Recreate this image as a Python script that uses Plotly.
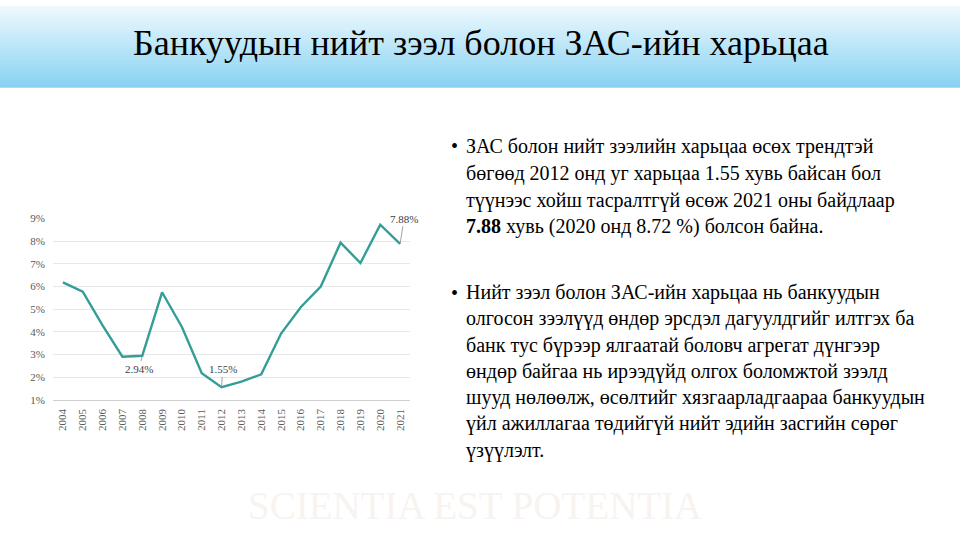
import plotly.graph_objects as go

years = list(range(2004, 2022))
ratio = [6.18, 5.77, 4.28, 2.90, 2.94, 5.74, 4.21, 2.17, 1.55, 1.80, 2.12,
         3.92, 5.09, 5.99, 7.93, 7.03, 8.72, 7.88]

label_years = [2008, 2012, 2021]
label_values = [2.94, 1.55, 7.88]
label_texts = ["2.94%", "1.55%", "7.88%"]
label_offsets = [(-3, 13), (1, -18), (4, -25)]

y_ticks = [1, 2, 3, 4, 5, 6, 7, 8, 9]
y_tick_labels = ["1%", "2%", "3%", "4%", "5%", "6%", "7%", "8%", "9%"]
x_tick_labels = [str(y) for y in years]

title_text = "Банкуудын нийт зээл болон ЗАС-ийн харьцаа"

bullet1 = [
    "ЗАС болон нийт зээлийн харьцаа өсөх трендтэй",
    "бөгөөд 2012 онд уг харьцаа 1.55 хувь байсан бол",
    "түүнээс хойш тасралтгүй өсөж 2021 оны байдлаар",
    "<b>7.88</b> хувь (2020 онд 8.72 %) болсон байна.",
]
bullet2 = [
    "Нийт зээл болон ЗАС-ийн харьцаа нь банкуудын",
    "олгосон зээлүүд өндөр эрсдэл дагуулдгийг илтгэх ба",
    "банк тус бүрээр ялгаатай боловч агрегат дүнгээр",
    "өндөр байгаа нь ирээдүйд олгох боломжтой зээлд",
    "шууд нөлөөлж, өсөлтийг хязгаарладгаараа банкуудын",
    "үйл ажиллагаа төдийгүй нийт эдийн засгийн сөрөг",
    "үзүүлэлт.",
]

W, H = 960, 540
SERIF = "Liberation Serif, Times New Roman, serif"


def fy(py):
    """target pixel row -> paper fraction (compensating viewer offset)"""
    return 1 - ((py - 6) / 0.976) / H


fig = go.Figure()
fig.add_trace(go.Scatter(
    x=years, y=ratio, mode="lines",
    line=dict(color="#339e97", width=2.4),
    hoverinfo="x+y", showlegend=False,
))

shapes = []
n = 44
top_c = (238, 249, 254)
bot_c = (136, 210, 242)
band_top = 0.0
band_bot = 1 - fy(87)
for i in range(n):
    t = i / (n - 1)
    c = tuple(int(round(top_c[k] + (bot_c[k] - top_c[k]) * t)) for k in range(3))
    a0 = band_top + (band_bot - band_top) * i / n
    a1 = band_top + (band_bot - band_top) * (i + 1) / n + 0.0012
    shapes.append(dict(
        type="rect", xref="paper", yref="paper",
        x0=0, x1=1, y0=1 - a1, y1=1 - a0,
        fillcolor="rgb(%d,%d,%d)" % c, line=dict(width=0), layer="below",
    ))

annotations = []
annotations.append(dict(
    text=title_text, xref="paper", yref="paper",
    x=481 / W, y=fy(43), xanchor="center", yanchor="middle",
    showarrow=False, font=dict(family=SERIF, size=36, color="#000000"),
))

annotations.append(dict(
    text="SCIENTIA EST POTENTIA", xref="paper", yref="paper",
    x=475 / W, y=fy(505), xanchor="center", yanchor="middle",
    showarrow=False, font=dict(family=SERIF, size=39, color="#f9f3ef"),
))

for yr, v, txt, (ax, ay) in zip(label_years, label_values, label_texts, label_offsets):
    annotations.append(dict(
        x=yr, y=v, xref="x", yref="y", text=txt,
        showarrow=True, arrowhead=0, arrowwidth=0.8, arrowcolor="#8c8c8c",
        ax=ax, ay=ay, standoff=0,
        font=dict(family=SERIF, size=11, color="#404040"),
    ))

text_font = dict(family=SERIF, size=20, color="#000000")
y1_lines = [146, 173, 200, 226.5]
y2_lines = [292, 318, 345, 370.5, 396.5, 423, 450]
for lines, ys in ((bullet1, y1_lines), (bullet2, y2_lines)):
    annotations.append(dict(
        text="•", xref="paper", yref="paper", x=449 / W, y=fy(ys[0]),
        xanchor="left", yanchor="middle", showarrow=False, font=text_font,
    ))
    for line, yy in zip(lines, ys):
        annotations.append(dict(
            text=line, xref="paper", yref="paper", x=464 / W, y=fy(yy),
            xanchor="left", yanchor="middle", showarrow=False, font=text_font,
        ))

fig.update_layout(
    width=W, height=H, autosize=False,
    margin=dict(l=0, r=0, t=0, b=0, pad=0),
    paper_bgcolor="#ffffff", plot_bgcolor="rgba(0,0,0,0)",
    shapes=shapes, annotations=annotations,
    xaxis=dict(
        domain=[53 / W, 410 / W], type="linear",
        range=[years[0] - 0.5, years[-1] + 0.5],
        tickmode="array", tickvals=years, ticktext=x_tick_labels,
        tickangle=-90, tickfont=dict(family=SERIF, size=11, color="#595959"),
        ticklabelstandoff=4,
        showgrid=False, showline=True, linecolor="#d0d0d0", linewidth=1,
        zeroline=False, ticks="", fixedrange=True,
    ),
    yaxis=dict(
        domain=[fy(399), fy(218)], range=[1, 9], type="linear",
        tickmode="array", tickvals=y_ticks, ticktext=y_tick_labels,
        tickfont=dict(family=SERIF, size=11, color="#595959"),
        ticklabelstandoff=7,
        showgrid=True, gridcolor="#e8e8e8", gridwidth=1,
        zeroline=False, showline=False, ticks="", fixedrange=True,
    ),
)

fig.write_html(
    "out.html",
    config={"displayModeBar": False},
    post_script="document.body.style.margin='0';document.body.style.overflow='hidden';",
)
